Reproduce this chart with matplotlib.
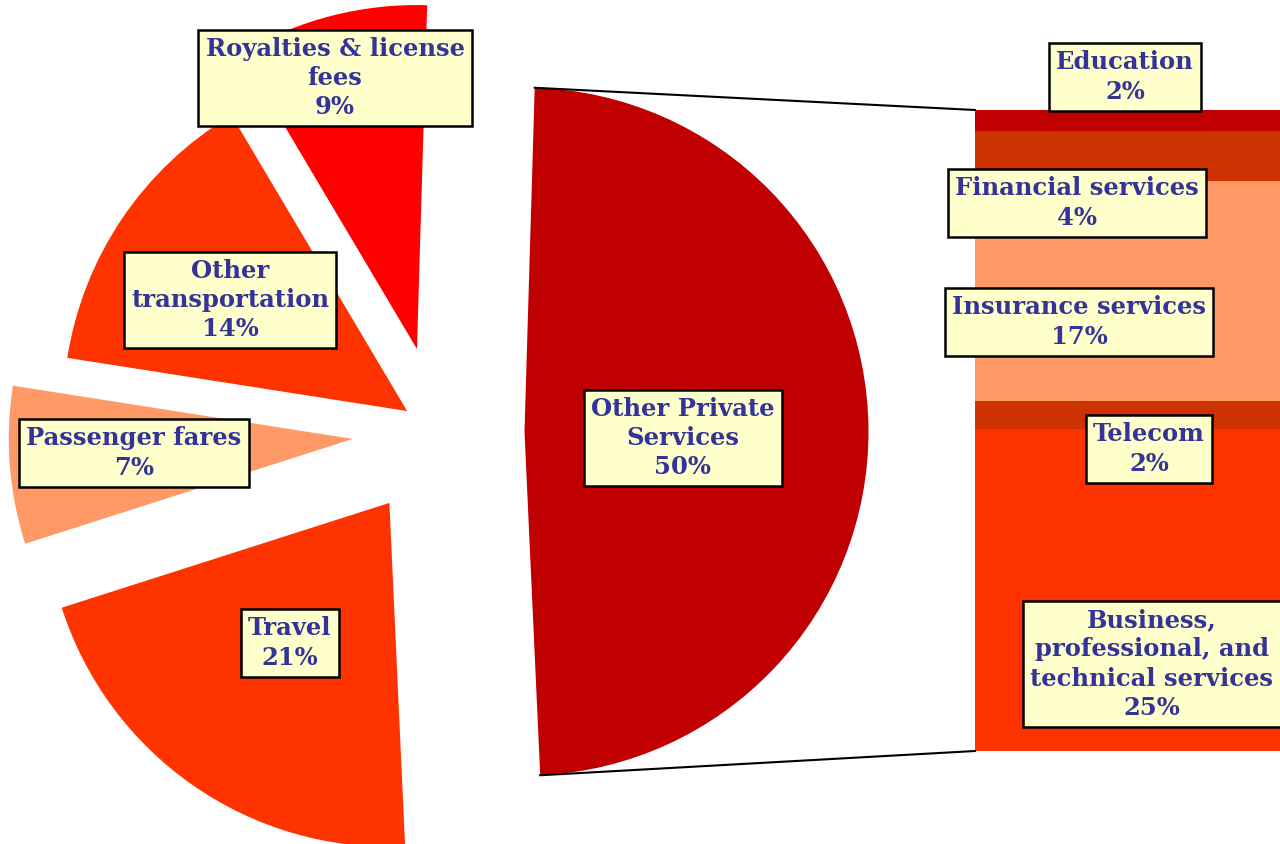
import numpy as np
import matplotlib
matplotlib.use("Agg")
import matplotlib.pyplot as plt

# ==================== 数据 ====================
# 主饼图（从顶部顺时针：Other Private Services 在右侧）
pie_labels = ["Other Private\nServices", "Travel", "Passenger fares",
              "Other\ntransportation", "Royalties & license\nfees"]
pie_pct_text = ["50%", "21%", "7%", "14%", "9%"]
pie_values = [48.8, 20.8, 7.4, 14.0, 9.0]

# 右侧堆叠条（从下到上）
bar_labels = ["Business,\nprofessional, and\ntechnical services", "Telecom",
              "Insurance services", "Financial services", "Education"]
bar_pct_text = ["25%", "2%", "17%", "4%", "2%"]
bar_values = [25.1, 2.2, 17.2, 3.9, 1.6]

# ==================== 样式 / 布局 ====================
W, H = 1280, 844
PIE_CENTER = (438.5, H - 432.3)
PIE_RADIUS = 344
EXPLODE = [0.25, 0.25, 0.25, 0.11, 0.25]   # 半径的比例
START_ANGLE = 88.3
pie_colors = ["#C00000", "#FF3300", "#FF9966", "#FF3300", "#FF0000"]

BAR_LEFT = 975
BAR_WIDTH = 340
BAR_BOTTOM = H - 751
BAR_HEIGHT = 641
bar_colors = ["#FF3300", "#CC3300", "#FF9966", "#CC3300", "#C00000"]

# 标签中心位置（图像坐标，y 向下）
pie_label_pos = [(683, 438), (290, 643), (134, 453), (230, 300), (335, 78)]
bar_label_pos = [(1152, 664), (1149, 449), (1079, 322), (1077, 203), (1125, 77)]

TEXT_COLOR = "#333399"
BOX = dict(boxstyle="square,pad=0.3", facecolor="#FFFFCC", edgecolor="black", linewidth=1.8)
FONT = dict(family="DejaVu Serif", weight="bold", size=17.5)
LINESPACING = 1.27

fig = plt.figure(figsize=(W / 100, H / 100), dpi=100)
ax = fig.add_axes([0, 0, 1, 1])

# matplotlib 的 explode 是数据单位，这里乘以半径
wedges, _ = ax.pie(pie_values, explode=[e * PIE_RADIUS for e in EXPLODE],
                   colors=pie_colors, startangle=START_ANGLE, counterclock=False,
                   center=PIE_CENTER, radius=PIE_RADIUS,
                   wedgeprops=dict(linewidth=0))

# 堆叠条
heights = np.array(bar_values) / np.sum(bar_values) * BAR_HEIGHT
bottoms = BAR_BOTTOM + np.concatenate([[0], np.cumsum(heights)[:-1]])
ax.bar([BAR_LEFT] * len(heights), heights, width=BAR_WIDTH, bottom=bottoms,
       align="edge", color=bar_colors, linewidth=0)

# 连接线：从主扇区两端到条形顶/底
ops = wedges[0]
cx, cy = ops.center
t_top, t_bot = np.deg2rad(ops.theta2), np.deg2rad(ops.theta1)
top_pt = (cx + ops.r * np.cos(t_top), cy + ops.r * np.sin(t_top))
bot_pt = (cx + ops.r * np.cos(t_bot), cy + ops.r * np.sin(t_bot))
ax.plot([top_pt[0], BAR_LEFT], [top_pt[1], bottoms[-1] + heights[-1]], color="black", lw=1.5)
ax.plot([bot_pt[0], BAR_LEFT], [bot_pt[1], BAR_BOTTOM], color="black", lw=1.5)

for lab, pct, (x, y) in zip(pie_labels + bar_labels, pie_pct_text + bar_pct_text,
                            pie_label_pos + bar_label_pos):
    ax.text(x, H - y, f"{lab}\n{pct}", ha="center", va="center", color=TEXT_COLOR,
            bbox=BOX, linespacing=LINESPACING, **FONT)

ax.set_xlim(0, W)
ax.set_ylim(0, H)
ax.set_aspect("equal")
ax.axis("off")

fig.savefig("out.png", dpi=100)
